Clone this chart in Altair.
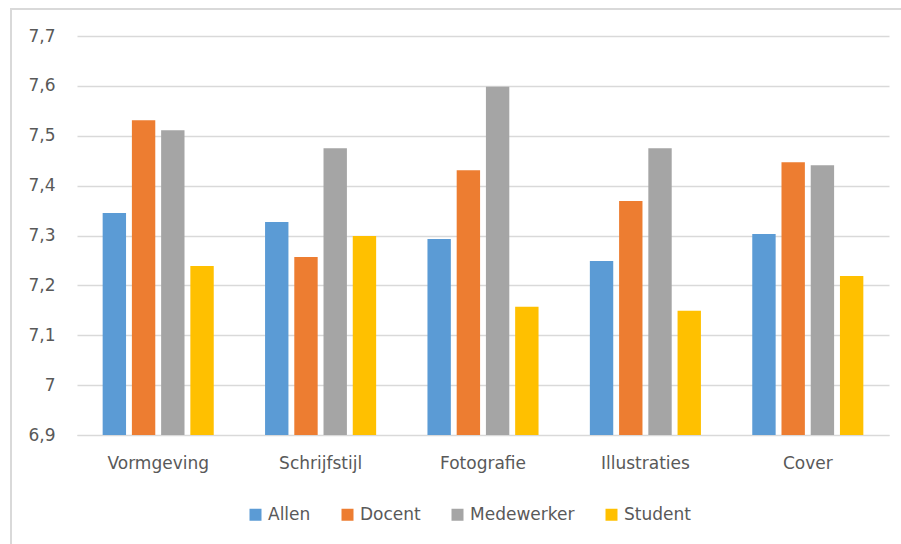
import altair as alt
import pandas as pd

categories = ["Vormgeving", "Schrijfstijl", "Fotografie", "Illustraties", "Cover"]
series = ["Allen", "Docent", "Medewerker", "Student"]
allen = [7.345, 7.327, 7.293, 7.249, 7.303]
docent = [7.531, 7.257, 7.431, 7.369, 7.447]
medewerker = [7.511, 7.475, 7.598, 7.475, 7.441]
student = [7.239, 7.299, 7.157, 7.149, 7.219]
colors = ["#5B9BD5", "#ED7D31", "#A5A5A5", "#FFC000"]

rows = []
for name, vals in zip(series, [allen, docent, medewerker, student]):
    for c, v in zip(categories, vals):
        rows.append({"Categorie": c, "Groep": name, "Waarde": v})
df = pd.DataFrame(rows)

FONT = "DejaVu Sans"
TXT = "#595959"
GRID = "#D9D9D9"

bars = alt.Chart(df).mark_bar(clip=True).encode(
    x=alt.X("Categorie:N", sort=categories, title=None,
            scale=alt.Scale(paddingInner=0.28, paddingOuter=0.14),
            axis=alt.Axis(labelAngle=0, ticks=False, labelPadding=20,
                          domainColor=GRID, labelFont=FONT, labelFontSize=17,
                          labelColor=TXT, grid=False)),
    xOffset=alt.XOffset("Groep:N", sort=series,
                        scale=alt.Scale(paddingInner=0.2, paddingOuter=0.1)),
    y=alt.Y("Waarde:Q", title=None,
            scale=alt.Scale(domain=[6.9, 7.7], zero=False, nice=False),
            axis=alt.Axis(values=[6.9, 7.0, 7.1, 7.2, 7.3, 7.4, 7.5, 7.6, 7.7],
                          labelExpr="replace(format(datum.value, '.1~f'), '.', ',')",
                          ticks=False, domain=False, gridColor=GRID, gridWidth=1.5,
                          labelPadding=22, labelFont=FONT, labelFontSize=17,
                          labelColor=TXT)),
    color=alt.Color("Groep:N", sort=series, title=None,
                    scale=alt.Scale(domain=series, range=colors),
                    legend=alt.Legend(orient="none", legendX=170, legendY=470,
                                      direction="horizontal", symbolType="square",
                                      symbolSize=144, symbolStrokeWidth=0,
                                      labelFont=FONT, labelFontSize=17,
                                      labelColor=TXT, labelOffset=4,
                                      columnPadding=28)),
)

frame = alt.Chart(pd.DataFrame({"a": [0]})).mark_rect(
    fill=None, stroke=GRID, strokeWidth=2
).encode(
    x=alt.value(-66), x2=alt.value(1000), y=alt.value(-27), y2=alt.value(700)
)

chart = alt.layer(frame, bars).properties(
    width=812, height=399,
    autosize=alt.AutoSizeParams(type="none"),
    padding={"left": 77, "top": 36, "right": 12, "bottom": 109},
    background="white",
).configure_view(stroke=None)

chart.save("out.html", embed_options={"renderer": "svg", "actions": False})
